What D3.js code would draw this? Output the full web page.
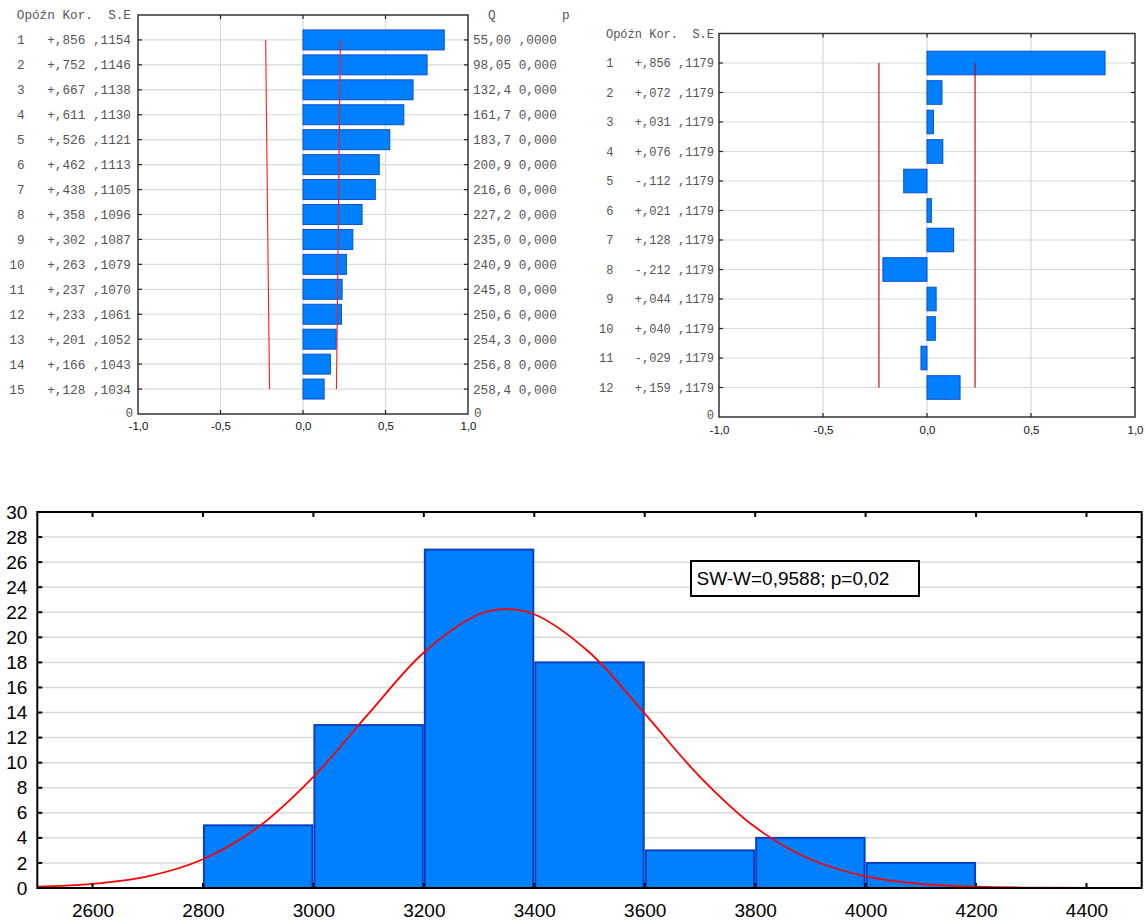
<!DOCTYPE html>
<html><head><meta charset="utf-8">
<script src="https://cdn.jsdelivr.net/npm/d3@7"></script>
<style>body{margin:0;background:#fff}svg{display:block}text{white-space:pre}</style>
</head><body><svg id="c" width="1146" height="920"></svg>
<script>
// ---------- DATA ----------
const acfLags = [1,2,3,4,5,6,7,8,9,10,11,12,13,14,15];
const acfCorr = [0.856,0.752,0.667,0.611,0.526,0.462,0.438,0.358,0.302,0.263,0.237,0.233,0.201,0.166,0.128];
const acfSE   = [0.1154,0.1146,0.1138,0.1130,0.1121,0.1113,0.1105,0.1096,0.1087,0.1079,0.1070,0.1061,0.1052,0.1043,0.1034];
const acfQ    = ["55,00","98,05","132,4","161,7","183,7","200,9","216,6","227,2","235,0","240,9","245,8","250,6","254,3","256,8","258,4"];
const acfP    = [",0000","0,000","0,000","0,000","0,000","0,000","0,000","0,000","0,000","0,000","0,000","0,000","0,000","0,000","0,000"];

const pacfLags = [1,2,3,4,5,6,7,8,9,10,11,12];
const pacfCorr = [0.856,0.072,0.031,0.076,-0.112,0.021,0.128,-0.212,0.044,0.040,-0.029,0.159];
const pacfSE   = [0.1179,0.1179,0.1179,0.1179,0.1179,0.1179,0.1179,0.1179,0.1179,0.1179,0.1179,0.1179];

const corrTicks = [-1,-0.5,0,0.5,1];
const zCrit = 1.96;
const leftHeader = "Opóźn Kor.  S.E";

const histEdges  = [2800,3000,3200,3400,3600,3800,4000,4200];
const histCounts = [5,13,27,18,3,4,2];
const histXTicks = [2600,2800,3000,3200,3400,3600,3800,4000,4200,4400];
const histYTicks = [0,2,4,6,8,10,12,14,16,18,20,22,24,26,28,30];
const normX = [2500,2600,2700,2800,2900,3000,3100,3200,3300,3350,3400,3500,3600,3700,3800,3900,4000,4100,4200,4300,4400,4500];
const normY = [0.10,0.33,0.93,2.29,4.86,8.87,13.91,18.79,21.84,22.25,21.84,18.79,13.91,8.87,4.86,2.29,0.93,0.33,0.10,0.03,0.01,0.0];
const statText = "SW-W=0,9588; p=0,02";

// ---------- HELPERS ----------
const svg = d3.select("#c");
const fmtTick = v => v.toFixed(1).replace(".", ",");
const fmtCorr = v => (v < 0 ? "-" : "+") + "," + String(Math.round(Math.abs(v)*1000)).padStart(3,"0");
const fmtSE = v => "," + String(Math.round(v*10000));
const BAR_FILL = "#0080ff", BAR_STROKE = "#0a4fd0", GRID = "#d9d9d9";
const MONO = "'Liberation Mono'";
const SANS = "'Liberation Sans',Arial,sans-serif";

function corrPanel(cfg) {
  const g = svg.append("g");
  const x = d3.scaleLinear().domain([-1,1]).range([cfg.x0, cfg.x1]);
  const nPos = cfg.lags.length + 1;
  const y = d3.scaleLinear().domain([0, nPos]).range([cfg.y1, cfg.y0]);
  const rowY = k => y(nPos - k);
  const bh = (y(0) - y(1)) * 0.8;

  g.selectAll(".hg").data(cfg.lags).join("line")
    .attr("x1", cfg.x0).attr("x2", cfg.x1)
    .attr("y1", d => rowY(d)).attr("y2", d => rowY(d))
    .attr("stroke", GRID).attr("stroke-width", 1.2);
  g.selectAll(".vg").data([-0.5,0,0.5]).join("line")
    .attr("x1", d => x(d)).attr("x2", d => x(d))
    .attr("y1", cfg.y0).attr("y2", cfg.y1)
    .attr("stroke", GRID).attr("stroke-width", 1.2);

  g.selectAll(".bar").data(cfg.lags).join("rect")
    .attr("x", (d,i) => x(Math.min(0, cfg.corr[i])))
    .attr("width", (d,i) => Math.abs(x(cfg.corr[i]) - x(0)))
    .attr("y", d => rowY(d) - bh/2)
    .attr("height", bh)
    .attr("fill", BAR_FILL).attr("stroke", BAR_STROKE).attr("stroke-width", 1);

  const lim = cfg.lags.map((d,i) => ({k:d, v: zCrit*cfg.se[i]}));
  const line = d3.line().x(d => d[0]).y(d => d[1]);
  [1,-1].forEach(s => {
    g.append("path")
      .attr("d", line(lim.map(d => [x(s*d.v), rowY(d.k)])))
      .attr("fill","none").attr("stroke", cfg.limColor).attr("stroke-width", 1.1);
  });

  g.append("rect").attr("x", cfg.x0).attr("y", cfg.y0)
    .attr("width", cfg.x1-cfg.x0).attr("height", cfg.y1-cfg.y0)
    .attr("fill","none").attr("stroke","#333").attr("stroke-width",1.5);

  const tk = 4;
  g.selectAll(".tt").data([-0.5,0,0.5]).join("line")
    .attr("x1", d=>x(d)).attr("x2", d=>x(d)).attr("y1", cfg.y0).attr("y2", cfg.y0+tk)
    .attr("stroke","#222").attr("stroke-width",1.2);
  g.selectAll(".bt").data([-0.5,0,0.5]).join("line")
    .attr("x1", d=>x(d)).attr("x2", d=>x(d)).attr("y1", cfg.y1).attr("y2", cfg.y1-tk)
    .attr("stroke","#222").attr("stroke-width",1.2);
  g.selectAll(".lt").data(cfg.lags).join("line")
    .attr("x1", cfg.x0).attr("x2", cfg.x0+tk).attr("y1", d=>rowY(d)).attr("y2", d=>rowY(d))
    .attr("stroke","#222").attr("stroke-width",1.2);
  g.selectAll(".rt").data(cfg.lags).join("line")
    .attr("x1", cfg.x1).attr("x2", cfg.x1-tk).attr("y1", d=>rowY(d)).attr("y2", d=>rowY(d))
    .attr("stroke","#222").attr("stroke-width",1.2);

  const ax = g.append("g").attr("transform", `translate(0,${cfg.y1})`)
    .call(d3.axisBottom(x).tickValues(corrTicks).tickFormat(fmtTick).tickSize(0).tickPadding(cfg.tickPad));
  ax.select(".domain").remove();
  ax.selectAll("text").attr("font-family", SANS).attr("font-size", 11.5).attr("fill","#111");

  const tg = g.append("g").attr("font-family", MONO).attr("font-size", cfg.fs).attr("fill", "#555");
  tg.append("text").attr("x", cfg.textEnd).attr("y", cfg.y0).attr("dy","0.35em")
    .attr("text-anchor","end").text(leftHeader);
  tg.selectAll(".lag").data(cfg.lags).join("text")
    .attr("x", cfg.colLag).attr("y", d=>rowY(d)).attr("dy","0.35em").attr("text-anchor","end").text(d=>d);
  tg.selectAll(".cor").data(cfg.lags).join("text")
    .attr("x", cfg.textEnd).attr("y", d=>rowY(d)).attr("dy","0.35em").attr("text-anchor","end")
    .text((d,i)=>fmtCorr(cfg.corr[i]) + " " + fmtSE(cfg.se[i]));
  tg.append("text").attr("x", cfg.x0-5).attr("y", cfg.y1).attr("dy","0.2em").attr("text-anchor","end").text("0");

  if (cfg.q) {
    tg.append("text").attr("x", cfg.hdrR[0]).attr("y", cfg.y0).attr("dy","0.35em").text("Q");
    tg.append("text").attr("x", cfg.hdrR[1]).attr("y", cfg.y0).attr("dy","0.35em").text("p");
    tg.selectAll(".q").data(cfg.lags).join("text")
      .attr("x", cfg.colQ).attr("y", d=>rowY(d)).attr("dy","0.35em").text((d,i)=>cfg.q[i] + " " + cfg.p[i]);
    tg.append("text").attr("x", cfg.x1+6).attr("y", cfg.y1).attr("dy","0.2em").text("0");
  }
}

corrPanel({
  x0:138, x1:468, y0:15, y1:414, lags:acfLags, corr:acfCorr, se:acfSE,
  limColor:"#ff1a1a", tickPad:8, fs:12.7,
  textEnd:131, colLag:24.5,
  q:acfQ, p:acfP, hdrR:[488,562], colQ:473
});

corrPanel({
  x0:719, x1:1135, y0:33.5, y1:417, lags:pacfLags, corr:pacfCorr, se:pacfSE,
  limColor:"#c00000", tickPad:9, fs:12,
  textEnd:714, colLag:613.5
});

// ---------- HISTOGRAM ----------
(function(){
  const X0 = 37.3, X1 = 1141.7, Y0 = 512, Y1 = 888;
  const x = d3.scaleLinear().domain([2500,4500]).range([X0,X1]);
  const y = d3.scaleLinear().domain([0,30]).range([Y1,Y0]);
  const g = svg.append("g");

  g.selectAll(".hg").data(histYTicks.filter(d => d>0 && d<30)).join("line")
    .attr("x1", X0).attr("x2", X1).attr("y1", d=>y(d)).attr("y2", d=>y(d))
    .attr("stroke", GRID).attr("stroke-width", 1.5);

  g.selectAll(".hb").data(histCounts).join("rect")
    .attr("x", (d,i) => x(histEdges[i]) + 1)
    .attr("width", (d,i) => x(histEdges[i+1]) - x(histEdges[i]) - 2)
    .attr("y", d => y(d))
    .attr("height", d => y(0) - y(d))
    .attr("fill", BAR_FILL).attr("stroke", "#0a3fc2").attr("stroke-width", 2);

  const pts = normX.map((v,i) => [v, normY[i]]);
  g.append("path")
    .attr("d", d3.line().x(d=>x(d[0])).y(d=>y(d[1])).curve(d3.curveCatmullRom)(pts))
    .attr("fill","none").attr("stroke","#ff0000").attr("stroke-width",1.8);

  g.append("rect").attr("x", X0).attr("y", Y0).attr("width", X1-X0).attr("height", Y1-Y0)
    .attr("fill","none").attr("stroke","#000").attr("stroke-width",2);

  const tk = 5;
  g.selectAll(".tt").data(histXTicks).join("line")
    .attr("x1", d=>x(d)).attr("x2", d=>x(d)).attr("y1", Y0).attr("y2", Y0+tk).attr("stroke","#000").attr("stroke-width",2);
  g.selectAll(".bt").data(histXTicks).join("line")
    .attr("x1", d=>x(d)).attr("x2", d=>x(d)).attr("y1", Y1).attr("y2", Y1-tk).attr("stroke","#000").attr("stroke-width",2);
  g.selectAll(".lt").data(histYTicks).join("line")
    .attr("x1", X0).attr("x2", X0+tk).attr("y1", d=>y(d)).attr("y2", d=>y(d)).attr("stroke","#000").attr("stroke-width",2);
  g.selectAll(".rt").data(histYTicks).join("line")
    .attr("x1", X1).attr("x2", X1-tk).attr("y1", d=>y(d)).attr("y2", d=>y(d)).attr("stroke","#000").attr("stroke-width",2);

  const ax = g.append("g").attr("transform", `translate(0,${Y1})`)
    .call(d3.axisBottom(x).tickValues(histXTicks).tickFormat(d=>String(d)).tickSize(0).tickPadding(15.5));
  ax.select(".domain").remove();
  ax.selectAll("text").attr("font-family", SANS).attr("font-size", 19).attr("fill","#000");

  const ay = g.append("g").attr("transform", `translate(${X0},0)`)
    .call(d3.axisLeft(y).tickValues(histYTicks).tickFormat(d=>String(d)).tickSize(0).tickPadding(10));
  ay.select(".domain").remove();
  ay.selectAll("text").attr("font-family", SANS).attr("font-size", 19).attr("fill","#000");

  g.append("rect").attr("x", 691).attr("y", 561).attr("width", 228).attr("height", 35)
    .attr("fill","#fff").attr("stroke","#000").attr("stroke-width",2);
  g.append("text").attr("x", 696.5).attr("y", 578.5).attr("dy","0.35em")
    .attr("font-family", SANS).attr("font-size", 19).attr("fill","#000").text(statText);
})();
</script></body></html>
